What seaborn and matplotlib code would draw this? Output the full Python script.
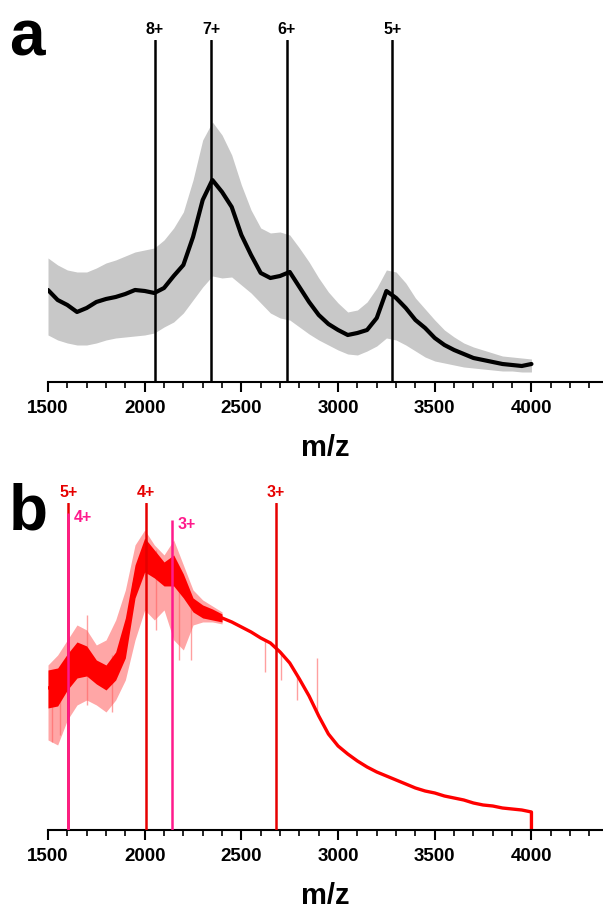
import numpy as np
import pandas as pd
import seaborn as sns
import matplotlib.pyplot as plt
from matplotlib.ticker import MultipleLocator

# ---- panel a: averaged spectrum (black) with spread (grey) ----
mz_a = list(range(1500, 4001, 50))
a_mean = [92, 82, 77, 70, 74, 80, 83, 85, 88, 92, 91, 89, 94, 106, 117, 145, 182, 202, 190, 175,
          147, 127, 109, 104, 106, 110, 95, 80, 67, 58, 52, 47, 49, 52, 64, 91, 84, 74, 62, 54,
          44, 37, 32, 28, 24, 22, 20, 18, 17, 16, 18]
a_upper = [124, 117, 112, 110, 110, 114, 119, 122, 126, 130, 132, 134, 142, 154, 170, 202, 242, 260, 247, 227,
           197, 172, 154, 149, 150, 147, 134, 120, 104, 90, 79, 70, 72, 80, 94, 112, 110, 99, 84, 73,
           62, 52, 45, 39, 35, 32, 29, 26, 25, 24, 23]
a_lower = [47, 42, 39, 37, 37, 39, 42, 44, 45, 46, 47, 49, 55, 60, 69, 82, 95, 106, 104, 105,
           97, 89, 79, 69, 64, 62, 55, 48, 42, 37, 32, 28, 27, 31, 36, 44, 42, 37, 31, 25,
           21, 19, 17, 15, 14, 13, 12, 11, 11, 10, 10]
a_peaks = [2051, 2344, 2735, 3281]
a_labels = ["8+", "7+", "6+", "5+"]

# ---- panel b: red spectrum ----
mz_b = list(range(1500, 4001, 50)) + [4000]
b_trace = [142, 144, 158, 170, 170, 158, 151, 162, 190, 250, 280, 268, 255, 262, 240, 225, 219, 216, 212, 208,
           203, 198, 192, 187, 178, 167, 151, 134, 114, 96, 84, 76, 69, 63, 58, 54, 50, 46, 42, 39,
           37, 34, 32, 30, 27, 25, 24, 22, 21, 20, 18, 0]
mz_noise = list(range(1500, 2401, 50))
b_core_hi = [160, 162, 176, 188, 184, 170, 165, 178, 212, 265, 292, 280, 268, 275, 256, 232, 225, 221, 216]
b_core_lo = [122, 124, 140, 152, 154, 146, 140, 150, 172, 232, 258, 252, 244, 244, 232, 218, 212, 210, 208]
b_env_hi = [165, 175, 190, 205, 200, 185, 190, 210, 240, 285, 300, 285, 275, 290, 265, 240, 230, 224, 218]
b_env_lo = [90, 85, 110, 125, 130, 125, 118, 130, 150, 190, 220, 210, 220, 190, 180, 205, 208, 208, 206]
spike_mz = [1520, 1560, 1700, 1830, 2060, 2180, 2240, 2620, 2705, 2790, 2892]
spike_lo = [88, 95, 125, 118, 200, 170, 170, 158, 150, 130, 118]
spike_hi = [150, 160, 215, 175, 280, 240, 232, 190, 178, 154, 172]

b_red_peaks = [1606, 2008, 2677]
b_red_labels = ["5+", "4+", "3+"]
b_pink_peaks = [1605, 2140]
b_pink_labels = ["4+", "3+"]
b_pink_tops = [317, 310]

df_a = pd.DataFrame({"mz": mz_a, "mean": a_mean, "upper": a_upper, "lower": a_lower})
df_b = pd.DataFrame({"mz": mz_b, "intensity": b_trace})

sns.set_style("ticks", {"text.color": "black", "axes.labelcolor": "black",
                        "xtick.color": "black", "axes.edgecolor": "black"})
plt.rcParams["font.family"] = ["Liberation Sans", "DejaVu Sans"]
plt.rcParams["font.weight"] = "bold"

RED = "#ff0000"
LINE_RED = "#e60000"
PINK = "#ff1a8c"

fig = plt.figure(figsize=(6.03, 9.08), dpi=100)
ax_a = fig.add_axes([0.0796, 0.5793, 0.9204, 0.3767])
ax_b = fig.add_axes([0.0796, 0.0859, 0.9204, 0.3602])


def style_axis(ax, top):
    ax.set_xlim(1500, 4370)
    ax.set_ylim(0, top)
    for s in ["left", "top", "right"]:
        ax.spines[s].set_visible(False)
    ax.spines["bottom"].set_linewidth(1.5)
    ax.set_yticks([])
    ax.set_xticks([1500, 2000, 2500, 3000, 3500, 4000])
    ax.xaxis.set_minor_locator(MultipleLocator(100))
    ax.tick_params(axis="x", which="major", length=7, width=1.5, labelsize=13.5, pad=6)
    ax.tick_params(axis="x", which="minor", length=4, width=1.2)
    for lab in ax.get_xticklabels():
        lab.set_fontweight("bold")
    ax.set_xlabel("m/z", fontsize=21, fontweight="bold", labelpad=12)
    ax.set_ylabel("")


# panel a
ax_a.fill_between(df_a["mz"], df_a["lower"], df_a["upper"], color="#c8c8c8", lw=0, zorder=1)
sns.lineplot(data=df_a, x="mz", y="mean", color="black", lw=3, ax=ax_a, zorder=2)
for mz, lab in zip(a_peaks, a_labels):
    ax_a.axvline(mz, color="black", lw=1.8, zorder=3)
    ax_a.annotate(lab, xy=(mz, 342), xytext=(0, 2), textcoords="offset points",
                  ha="center", va="bottom", fontsize=11.5, fontweight="bold", annotation_clip=False)
style_axis(ax_a, 342)

# panel b
ax_b.fill_between(mz_noise, b_env_lo, b_env_hi, color=RED, alpha=0.35, lw=0, zorder=1)
ax_b.vlines(spike_mz, spike_lo, spike_hi, color="#ff6060", alpha=0.6, lw=1, zorder=1)
ax_b.fill_between(mz_noise, b_core_lo, b_core_hi, color=RED, lw=0, zorder=2)
sns.lineplot(data=df_b, x="mz", y="intensity", color=RED, lw=2.4, ax=ax_b,
             estimator=None, sort=False, zorder=2)
for mz, lab in zip(b_red_peaks, b_red_labels):
    ax_b.axvline(mz, color=LINE_RED, lw=1.8, zorder=3)
    ax_b.annotate(lab, xy=(mz, 327), xytext=(0, 2), textcoords="offset points", color=LINE_RED,
                  ha="center", va="bottom", fontsize=11.5, fontweight="bold", annotation_clip=False)
for mz, lab, top in zip(b_pink_peaks, b_pink_labels, b_pink_tops):
    ax_b.vlines(mz, 0, top, color=PINK, lw=1.8, zorder=4)
    ax_b.annotate(lab, xy=(mz, top), xytext=(4, -3), textcoords="offset points", color=PINK,
                  ha="left", va="center", fontsize=11.5, fontweight="bold")
style_axis(ax_b, 327)

fig.text(0.015, 1 - 56 / 908, "a", fontsize=46, fontweight="bold", color="black",
         ha="left", va="baseline")
fig.text(0.015, 1 - 530 / 908, "b", fontsize=46, fontweight="bold", color="black",
         ha="left", va="baseline")

fig.savefig("out.png", dpi=100)
